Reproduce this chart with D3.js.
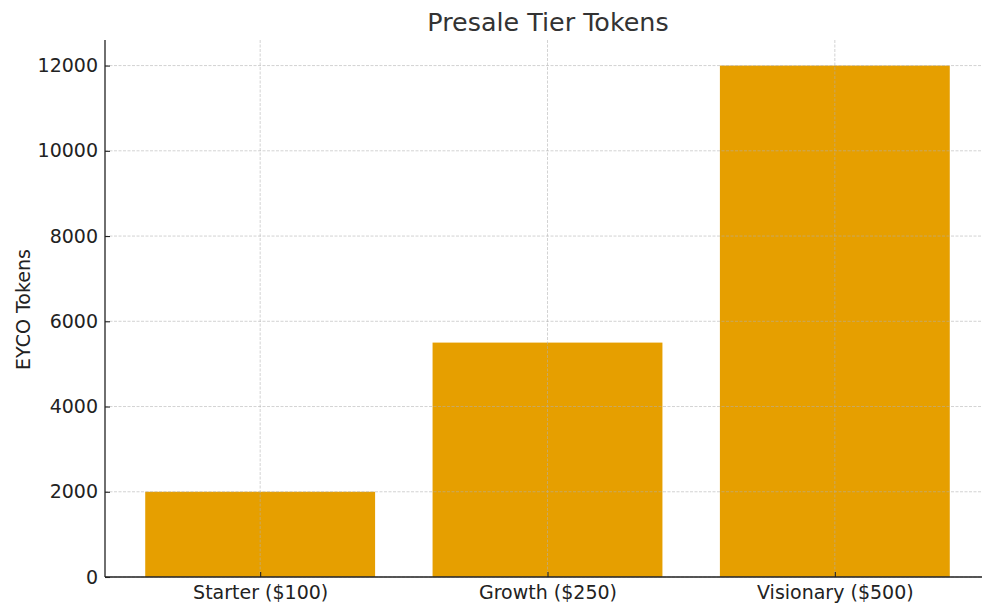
<!DOCTYPE html>
<html><head><meta charset="utf-8">
<script src="https://cdn.jsdelivr.net/npm/d3@7"></script>
<style>body{margin:0;background:#fff}svg{display:block}text{font-family:"DejaVu Sans",sans-serif}</style>
</head><body><svg id="c" width="982" height="607"></svg>
<script>
const categories = ["Starter ($100)", "Growth ($250)", "Visionary ($500)"];
const tokens = [2000, 5500, 12000];
const yTicks = [0, 2000, 4000, 6000, 8000, 10000, 12000];
const title = "Presale Tier Tokens";
const yLabel = "EYCO Tokens";

const W = 982, H = 607;
const m = {left: 105, right: 990, top: 40, bottom: 577};
const svg = d3.select("#c");
const x = d3.scaleLinear().domain([-0.54, categories.length - 1 + 0.54]).range([m.left, m.right]);
const y = d3.scaleLinear().domain([0, 12600]).range([m.bottom, m.top]);
const bw = x(0.8) - x(0);

// bars
svg.append("g").selectAll("rect").data(tokens).join("rect")
  .attr("x", (d, i) => x(i) - bw / 2).attr("width", bw)
  .attr("y", d => y(d)).attr("height", d => y(0) - y(d))
  .attr("fill", "#E69F00");

// grid (drawn over bars)
const grid = svg.append("g").attr("stroke", "#b0b0b0").attr("stroke-opacity", 0.7)
  .attr("stroke-width", 0.8).attr("stroke-dasharray", "3,1.5");
grid.selectAll(".gy").data(yTicks).join("line")
  .attr("x1", m.left).attr("x2", m.right).attr("y1", d => y(d)).attr("y2", d => y(d));
grid.selectAll(".gx").data(categories).join("line")
  .attr("x1", (d, i) => x(i)).attr("x2", (d, i) => x(i)).attr("y1", m.top).attr("y2", m.bottom);

// axes
const yAxis = d3.axisLeft(y).tickValues(yTicks).tickFormat(d3.format("d")).tickSizeInner(-5).tickSizeOuter(0).tickPadding(7);
const gy = svg.append("g").attr("transform", `translate(${m.left},0)`).call(yAxis);
const xAxis = d3.axisBottom(x).tickValues(d3.range(categories.length)).tickFormat(i => categories[i]).tickSizeInner(-5).tickSizeOuter(0).tickPadding(9);
const gx = svg.append("g").attr("transform", `translate(0,${m.bottom})`).call(xAxis);
[gx, gy].forEach(g => {
  g.select(".domain").attr("stroke", "#222").attr("stroke-width", 1.3);
  g.selectAll(".tick line").attr("stroke", "#222").attr("stroke-width", 1.1);
  g.selectAll(".tick text").attr("fill", "#222").style("font-size", "19px").style("font-family", "DejaVu Sans");
});
gy.select(".domain").attr("d", `M0,${m.bottom}V${m.top}`);
gx.select(".domain").attr("d", `M${m.left},0H${m.right}`);

svg.append("text").attr("x", 548).attr("y", 31).attr("text-anchor", "middle")
  .attr("fill", "#333").style("font-size", "25.4px").text(title);
svg.append("text").attr("transform", `translate(30,${(m.top + m.bottom) / 2 + 1}) rotate(-90)`)
  .attr("text-anchor", "middle").attr("fill", "#222").style("font-size", "19px").text(yLabel);
</script></body></html>
